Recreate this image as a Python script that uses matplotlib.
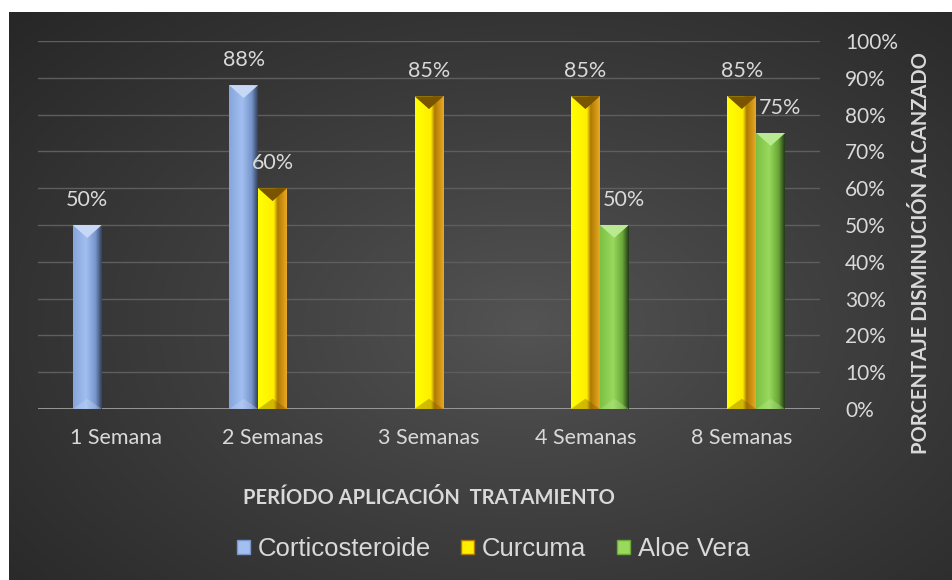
import matplotlib.pyplot as plt
import numpy as np
from matplotlib.patches import Polygon, Rectangle
from matplotlib.colors import to_rgb

categories = ["1 Semana", "2 Semanas", "3 Semanas", "4 Semanas", "8 Semanas"]
series = ["Corticosteroide", "Curcuma", "Aloe Vera"]
cortico = [0.50, 0.88, np.nan, np.nan, np.nan]
curcuma = [np.nan, 0.60, 0.85, 0.85, 0.85]
aloe = [np.nan, np.nan, np.nan, 0.50, 0.75]
values = [cortico, curcuma, aloe]

# (left, middle, dark fold, right edge, bevel)
styles = [
    ["#86a5da", "#a3bff0", "#7896cc", "#34435f", "#c6d8f6"],
    ["#ffff00", "#ffee00", "#b07a00", "#e8a824", "#7a5500"],
    ["#7cc044", "#9ad95e", "#6aa838", "#26391a", "#b9ea92"],
]
profiles = [
    [0.0, 0.45, 0.78, 1.0],
    [0.0, 0.55, 0.68, 1.0],
    [0.0, 0.45, 0.78, 1.0],
]
label_dx = [0, 0, 7]
txt = "#d9d9d9"

W, H = 953, 580
fig = plt.figure(figsize=(W / 100, H / 100), dpi=100)

# dark radial background
bg = fig.add_axes([9 / W, 0, (W - 9) / W, (H - 12) / H])
yy, xx = np.mgrid[0:1:300j, 0:1:500j]
r = np.sqrt(((xx - 0.55) / 0.75) ** 2 + ((yy - 0.45) / 0.8) ** 2)
r = np.clip(r, 0, 1)
c0, c1 = np.array(to_rgb("#545454")), np.array(to_rgb("#272727"))
img = c0 + (c1 - c0) * r[..., None] ** 0.9
bg.imshow(img, aspect="auto", extent=(0, 1, 0, 1), origin="lower")
bg.axis("off")

ax = fig.add_axes([38 / W, (H - 409) / H, (820 - 38) / W, (409 - 41) / H])
ax.set_facecolor("none")
x = np.arange(len(categories))
bw = 0.185
ax.set_xlim(-0.5, len(categories) - 0.5)
ax.set_ylim(0, 1.0)

def gradient(cols, stops, n=60):
    t = np.linspace(0, 1, n)
    rgb = np.array([to_rgb(c) for c in cols[:4]])
    out = np.stack([np.interp(t, stops, rgb[:, k]) for k in range(3)], axis=1)
    return out[None, :, :]

for i, vals in enumerate(values):
    offs = (i - 1) * bw
    bars = ax.bar(x + offs, vals, bw, color=styles[i][0], zorder=3)
    grad = gradient(styles[i], profiles[i])
    for b, v in zip(bars, vals):
        if np.isnan(v):
            continue
        x0, w = b.get_x(), b.get_width()
        im = ax.imshow(grad, extent=(x0, x0 + w, 0, v), aspect="auto", zorder=4)
        im.set_clip_path(b)
        bev = 0.035
        ax.add_patch(Polygon([[x0, v], [x0 + w, v], [x0 + w * 0.5, v - bev]],
                             closed=True, color=styles[i][4], zorder=5, lw=0))
        ax.add_patch(Polygon([[x0, 0], [x0 + w, 0], [x0 + w * 0.5, bev * 0.8]],
                             closed=True, color=styles[i][4], alpha=0.35, zorder=5, lw=0))
        ax.annotate(f"{v:.0%}", (x0 + w / 2, v), xytext=(label_dx[i], 18),
                    textcoords="offset points", ha="center", va="center", color=txt,
                    fontsize=15.5, family="Lato", zorder=10)

ax.set_xticks(x)
ax.set_xticklabels(categories, family="Lato", fontsize=15.5, color=txt)
ax.set_yticks(np.arange(0, 1.01, 0.1))
ax.set_yticklabels([f"{t}%" for t in range(0, 101, 10)], family="Lato", fontsize=15, color=txt)
ax.yaxis.tick_right()
ax.tick_params(axis="y", length=0, pad=18)
ax.tick_params(axis="x", length=0, pad=14)
ax.grid(axis="y", color="#5e5e5e", lw=1, zorder=0)
for s in ax.spines.values():
    s.set_visible(False)
ax.axhline(0, color="#a6a6a6", lw=1.2, zorder=2)

fig.text(429 / W, 1 - 498 / H, "PERÍODO APLICACIÓN  TRATAMIENTO", ha="center", va="center",
         color=txt, fontsize=14.5, fontweight="bold", family="Lato")
fig.text(921 / W, 1 - 253 / H, "PORCENTAJE DISMINUCIÓN ALCANZADO", ha="center", va="center",
         rotation=90, color=txt, fontsize=14.5, fontweight="bold", family="Lato")

handles = [Rectangle((0, 0), 1, 1, facecolor=styles[i][1], edgecolor=styles[i][2], lw=1)
           for i in range(3)]
fig.legend(handles, series, loc="center", bbox_to_anchor=(493 / W, 1 - 549 / H), ncol=3,
           frameon=False, prop={"family": "Liberation Sans", "size": 18.5}, labelcolor=txt,
           handlelength=0.5, handleheight=0.5, handletextpad=0.3, columnspacing=1.2)

fig.savefig("out.png", dpi=100)
